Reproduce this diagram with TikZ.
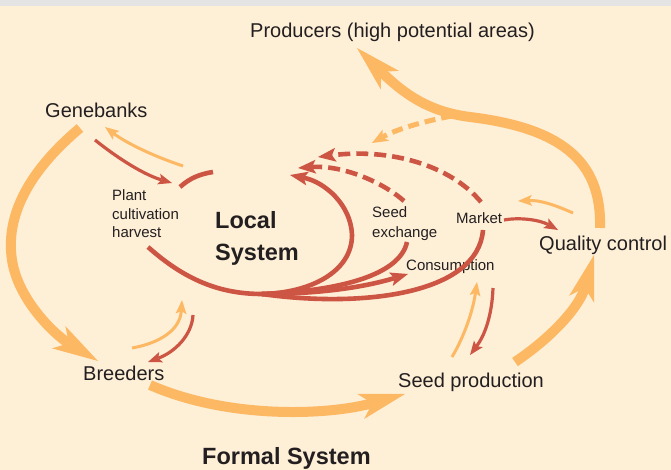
\documentclass[tikz,border=0pt]{standalone}
\usepackage{fontspec}
\setmainfont{Liberation Sans}
\usetikzlibrary{arrows.meta}
\definecolor{bgc}{HTML}{FEEFD7}
\definecolor{topc}{HTML}{E4E4E4}
\definecolor{orc}{HTML}{FDB863}
\definecolor{rdc}{HTML}{CD5544}
\definecolor{txc}{HTML}{231F20}
\tikzset{
  lab/.style={font=\fontsize{20}{24}\selectfont, text=txc, inner sep=0pt, anchor=base west},
  smlab/.style={font=\fontsize{15}{18}\selectfont, text=txc, inner sep=0pt, anchor=base west},
  boldlab/.style={font=\fontsize{23.5}{28}\selectfont\bfseries, text=txc, inner sep=0pt, anchor=base west},
  thickar/.style={draw=orc, line width=10pt, -{Stealth[length=46pt,width=26pt,inset=12pt,line width=0pt]}},
  thinor/.style={draw=orc, line width=3pt, -{Stealth[length=14pt,width=11pt,inset=3pt,line width=0pt]}},
  thinrd/.style={draw=rdc, line width=3.2pt, -{Stealth[length=14pt,width=11pt,inset=3pt,line width=0pt]}},
  dashor/.style={draw=orc, line width=5pt, dash pattern=on 11pt off 6pt, -{Stealth[length=16pt,width=13pt,inset=4pt,line width=0pt]}},
  rdline/.style={draw=rdc, line width=4.6pt},
  rdar/.style={draw=rdc, line width=4.6pt, -{Stealth[length=18pt,width=14pt,inset=4pt,line width=0pt]}},
  rddash/.style={draw=rdc, line width=4.6pt, dash pattern=on 12pt off 6pt, -{Stealth[length=18pt,width=14pt,inset=4pt,line width=0pt]}}
}
\begin{document}
\begin{tikzpicture}[x=1pt,y=-1pt]
\useasboundingbox (0,0) rectangle (671,470);
\fill[bgc] (0,0) rectangle (671,470);
\fill[topc] (0,0) rectangle (671,6);

% labels
\node[lab] (prod) at (250,38) {Producers (high potential areas)};
\node[lab] (gb) at (45,118) {Genebanks};
\node[smlab] (pl1) at (112,201) {Plant};
\node[smlab] (pl2) at (112,219) {cultivation};
\node[smlab] (pl3) at (112,237) {harvest};
\node[boldlab] (loc1) at (215,229) {Local};
\node[boldlab] (loc2) at (215,260) {System};
\node[smlab] (se1) at (372,218) {Seed};
\node[smlab] (se2) at (372,237) {exchange};
\node[smlab] (mkt) at (456,223) {Market};
\node[smlab] (cons) at (406,270) {Consumption};
\node[lab] (qc) at (539,251) {Quality control};
\node[lab] (br) at (83,380) {Breeders};
\node[lab] (sp) at (398,387) {Seed production};
\node[boldlab] (fs) at (202,464.5) {Formal System};

% coordinates
\coordinate (gbS) at (80,128);
\coordinate (brT) at (98,361);
\coordinate (brS) at (150,385);
\coordinate (spT) at (405,394);
\coordinate (spS) at (515,362);
\coordinate (qcT) at (594,255);
\coordinate (qcS) at (600,228);
\coordinate (prT) at (357,48);
\coordinate (dS) at (452,116);
\coordinate (dT) at (372,143);
\coordinate (o1S) at (183,166);
\coordinate (o1T) at (105,127);
\coordinate (o2S) at (573,213);
\coordinate (o2T) at (518,201);
\coordinate (o3S) at (132,348);
\coordinate (o3T) at (182,300);
\coordinate (o4S) at (452,357);
\coordinate (o4T) at (477,282);
\coordinate (r1S) at (95,140);
\coordinate (r1T) at (172,183);
\coordinate (r2S) at (504,220);
\coordinate (r2T) at (558,230);
\coordinate (r3S) at (193,315);
\coordinate (r3T) at (148,362);
\coordinate (r4S) at (493,288);
\coordinate (r4T) at (470,355);
\coordinate (arcA) at (180,187);
\coordinate (arcB) at (213,172);
\coordinate (hv) at (148,247);
\coordinate (P) at (262,294);
\coordinate (loopT) at (290,175);
\coordinate (seS) at (407,242);
\coordinate (consT) at (408,274);
\coordinate (mkS) at (483,230);
\coordinate (seD) at (404,201);
\coordinate (seDT) at (298,168);
\coordinate (mkD) at (481,202);
\coordinate (mkDT) at (318,157);

% thick orange arrows (formal system)
\draw[thickar] (gbS) .. controls (30,170) and (5,215) .. (12,260) .. controls (18,300) and (55,335) .. (brT);
\draw[thickar] (brS) .. controls (230,420) and (330,415) .. (spT);
\draw[thickar] (spS) .. controls (555,335) and (580,305) .. (qcT);
\draw[dashor] (dS) .. controls (420,122) and (395,130) .. (dT);
\draw[thickar] (qcS) .. controls (602,160) and (560,128) .. (470,117) .. controls (430,112) and (405,95) .. (prT);

% thin orange arrows
\draw[thinor] (o1S) .. controls (150,155) and (125,142) .. (o1T);
\draw[thinor] (o2S) .. controls (555,205) and (540,200) .. (o2T);
\draw[thinor] (o3S) .. controls (160,343) and (180,330) .. (o3T);
\draw[thinor] (o4S) .. controls (465,335) and (473,310) .. (o4T);

% thin red arrows
\draw[thinrd] (r1S) .. controls (120,160) and (145,175) .. (r1T);
\draw[thinrd] (r2S) .. controls (520,217) and (540,220) .. (r2T);
\draw[thinrd] (r3S) .. controls (192,335) and (175,352) .. (r3T);
\draw[thinrd] (r4S) .. controls (492,315) and (485,335) .. (r4T);

% local system
\draw[rdline] (arcA) .. controls (190,178) and (200,174) .. (arcB);
\draw[rdline] (hv) .. controls (185,280) and (220,294) .. (P);
\draw[rdar] (P) .. controls (310,293) and (352,272) .. (352,235) .. controls (351,205) and (325,182) .. (loopT);
\draw[rdline] (seS) .. controls (400,275) and (340,291) .. (P);
\draw[rdar] (P) .. controls (320,294) and (365,287) .. (consT);
\draw[rdline] (mkS) .. controls (478,295) and (360,308) .. (P);
\draw[rddash] (seD) .. controls (380,180) and (340,165) .. (seDT);
\draw[rddash] (mkD) .. controls (450,165) and (390,148) .. (mkDT);
\end{tikzpicture}
\end{document}
